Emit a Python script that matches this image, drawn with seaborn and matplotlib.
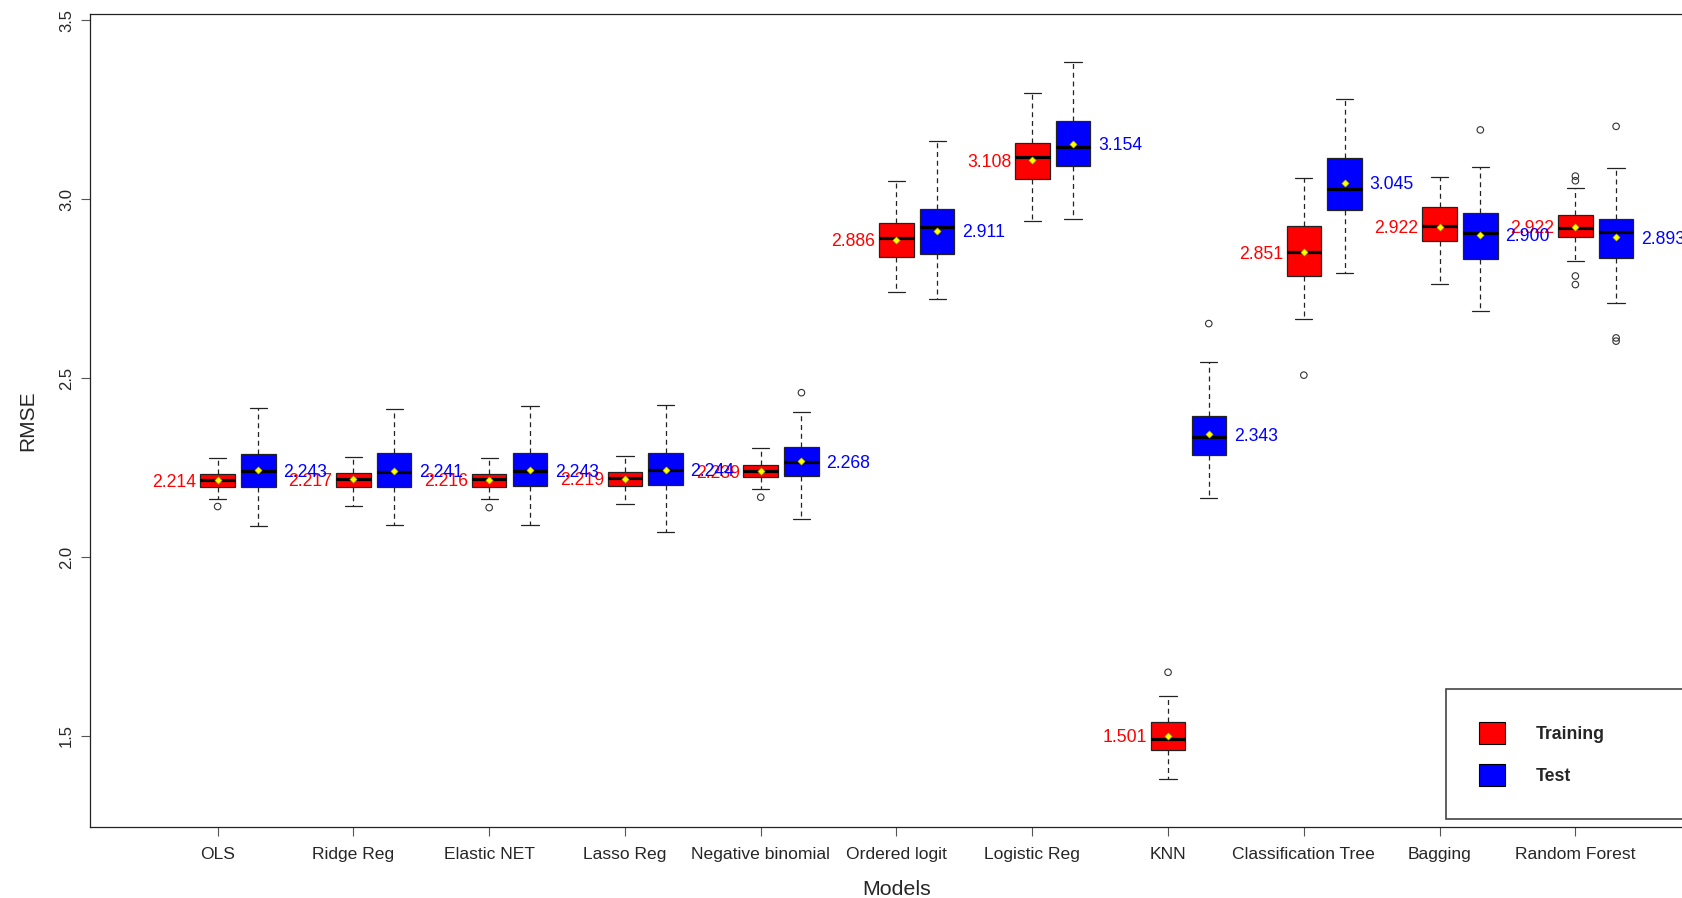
import numpy as np
import pandas as pd
import matplotlib.pyplot as plt
import seaborn as sns
from matplotlib.patches import Patch

models = ["OLS", "Ridge Reg", "Elastic NET", "Lasso Reg", "Negative binomial",
          "Ordered logit", "Logistic Reg", "KNN", "Classification Tree",
          "Bagging", "Random Forest"]

# five-number summaries (lower whisker, Q1, median, Q3, upper whisker)
train_lo = [2.162, 2.143, 2.162, 2.148, 2.189, 2.739, 2.938, 1.379, 2.665, 2.763, 2.828]
train_q1 = [2.196, 2.196, 2.196, 2.199, 2.223, 2.837, 3.056, 1.461, 2.786, 2.884, 2.894]
train_med = [2.216, 2.218, 2.217, 2.221, 2.240, 2.891, 3.118, 1.493, 2.851, 2.924, 2.919]
train_q3 = [2.233, 2.236, 2.233, 2.237, 2.256, 2.932, 3.156, 1.538, 2.925, 2.977, 2.955]
train_hi = [2.277, 2.279, 2.277, 2.281, 2.305, 3.050, 3.297, 1.613, 3.058, 3.061, 3.030]

test_lo = [2.087, 2.089, 2.089, 2.069, 2.106, 2.720, 2.945, 2.164, 2.794, 2.687, 2.710]
test_q1 = [2.196, 2.196, 2.198, 2.201, 2.227, 2.847, 3.093, 2.284, 2.968, 2.832, 2.835]
test_med = [2.241, 2.238, 2.241, 2.242, 2.265, 2.923, 3.146, 2.336, 3.028, 2.904, 2.908]
test_q3 = [2.288, 2.291, 2.291, 2.291, 2.307, 2.973, 3.217, 2.395, 3.115, 2.962, 2.945]
test_hi = [2.415, 2.413, 2.422, 2.424, 2.405, 3.162, 3.382, 2.544, 3.279, 3.090, 3.087]

train_mean = [2.214, 2.217, 2.216, 2.219, 2.239, 2.886, 3.108, 1.501, 2.851, 2.922, 2.922]
test_mean = [2.243, 2.241, 2.243, 2.244, 2.268, 2.911, 3.154, 2.343, 3.045, 2.900, 2.893]

train_out_idx = [0, 2, 4, 7, 8, 10, 10, 10, 10]
train_out_val = [2.141, 2.138, 2.167, 1.678, 2.508, 3.064, 3.051, 2.785, 2.761]
test_out_idx = [4, 7, 9, 10, 10, 10]
test_out_val = [2.459, 2.652, 3.193, 3.203, 2.612, 2.603]

W, H = 1683, 898
SHIFT = 0.3


def five_num_frame(lo, q1, med, q3, hi, shift):
    rows = []
    for i, vals in enumerate(zip(lo, q1, med, q3, hi)):
        for v in vals:
            rows.append({"pos": i + shift, "rmse": v})
    return pd.DataFrame(rows)


train_df = five_num_frame(train_lo, train_q1, train_med, train_q3, train_hi, 0)
test_df = five_num_frame(test_lo, test_q1, test_med, test_q3, test_hi, SHIFT)

sns.set_style("ticks")
plt.rcParams["font.family"] = ["Liberation Sans", "DejaVu Sans"]

fig = plt.figure(figsize=(W / 100, H / 100), dpi=100)
ax = fig.add_axes([90 / W, (H - 827) / H, 1613 / W, 813 / H])

box_kws = dict(native_scale=True, width=0.254, whis=(0, 100), showfliers=False,
               saturation=1, linecolor="#222222", linewidth=0.9,
               medianprops=dict(color="black", linewidth=2.3),
               whiskerprops=dict(linestyle=(0, (4, 3))), ax=ax)
sns.boxplot(data=train_df, x="pos", y="rmse", color="red", **box_kws)
sns.boxplot(data=test_df, x="pos", y="rmse", color="blue", **box_kws)

# outliers
out_kws = dict(marker="o", s=22, color="#333333", facecolor="none",
               edgecolor="#333333", linewidth=0.8, zorder=4, legend=False, ax=ax)
sns.scatterplot(x=np.array(train_out_idx, dtype=float), y=train_out_val, **out_kws)
sns.scatterplot(x=np.array(test_out_idx, dtype=float) + SHIFT, y=test_out_val, **out_kws)

# means
mean_kws = dict(marker="D", s=14, color="yellow", edgecolor="#8f8f00",
                linewidth=0.4, zorder=5, legend=False, ax=ax)
pos = np.arange(len(models), dtype=float)
sns.scatterplot(x=pos, y=train_mean, **mean_kws)
sns.scatterplot(x=pos + SHIFT, y=test_mean, **mean_kws)

for i, m in enumerate(train_mean):
    ax.text(i - 0.155, m, f"{m:.3f}", color="red", ha="right",
            va="center_baseline", fontsize=12.7)
for i, m in enumerate(test_mean):
    ax.text(i + SHIFT + 0.183, m, f"{m:.3f}", color="blue", ha="left",
            va="center_baseline", fontsize=12.7)

ax.set_xlim(-0.94, 10.94)
ax.set_ylim(1.2458, 3.5168)
ax.set_xticks(pos, models)
ax.set_yticks([1.5, 2.0, 2.5, 3.0, 3.5], ["1.5", "2.0", "2.5", "3.0", "3.5"])
plt.setp(ax.get_yticklabels(), rotation=90, va="center")

ax.tick_params(axis="both", direction="out", length=6.5, width=0.8, color="#555555")
ax.tick_params(axis="x", labelsize=12.6, pad=7.9)
ax.tick_params(axis="y", labelsize=12, pad=4.9)
for sp in ax.spines.values():
    sp.set_color("#222222")
    sp.set_linewidth(0.9)

ax.set_xlabel("Models", fontsize=15.4)
ax.xaxis.set_label_coords(0.5, -0.0652)
ax.set_ylabel("RMSE", fontsize=15)
ax.yaxis.set_label_coords(-0.0324, 0.5)

handles = [Patch(facecolor="red", edgecolor="black", linewidth=0.8, label="Training"),
           Patch(facecolor="blue", edgecolor="black", linewidth=0.8, label="Test")]
leg = ax.legend(handles=handles, loc="lower left",
                bbox_to_anchor=(0.8407, 0.00984, 0.1543, 0.16), mode="expand",
                borderaxespad=0, borderpad=1.85, handlelength=1.48, handleheight=1.55,
                handletextpad=1.76, labelspacing=1.15,
                prop={"weight": "bold", "size": 12.7},
                frameon=True, fancybox=False, edgecolor="#444444", framealpha=1)
leg.get_frame().set_linewidth(1.2)

fig.savefig("out.png", dpi=100)
